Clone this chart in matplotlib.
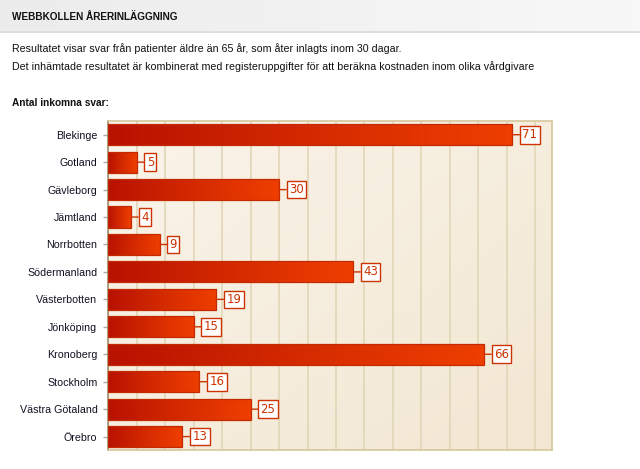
import numpy as np
import matplotlib
matplotlib.use("Agg")
import matplotlib.pyplot as plt
from matplotlib.colors import LinearSegmentedColormap

categories = ["Blekinge", "Gotland", "Gävleborg", "Jämtland", "Norrbotten",
              "Södermanland", "Västerbotten", "Jönköping", "Kronoberg",
              "Stockholm", "Västra Götaland", "Örebro"]
values = [71, 5, 30, 4, 9, 43, 19, 15, 66, 16, 25, 13]

title = "WEBBKOLLEN ÅRERINLÄGGNING"
line1 = "Resultatet visar svar från patienter äldre än 65 år, som åter inlagts inom 30 dagar."
line2 = "Det inhämtade resultatet är kombinerat med registeruppgifter för att beräkna kostnaden inom olika vårdgivare"
subtitle = "Antal inkomna svar:"

W, H = 640, 469
fig = plt.figure(figsize=(W / 100, H / 100), dpi=100)
fig.patch.set_facecolor("white")

# header band
hdr = fig.add_axes([0, 1 - 31 / H, 1, 31 / H])
grad = np.linspace(0, 1, 100).reshape(1, -1)
hcm = LinearSegmentedColormap.from_list("h", ["#ececec", "#f8f8f8"])
hdr.imshow(grad, aspect="auto", cmap=hcm, extent=(0, 1, 0, 1))
hdr.set_axis_off()
fig.add_artist(plt.Line2D([0, 1], [1 - 32 / H, 1 - 32 / H], color="#d8d8d8", lw=1.2))

fontfam = ["Liberation Sans", "DejaVu Sans"]
fig.text(12 / W, 1 - 17 / H, title, fontsize=7.2, fontweight="bold", va="center",
         ha="left", color="#111111", family=fontfam)
fig.text(12 / W, 1 - 49 / H, line1, fontsize=7.7, va="center", ha="left",
         color="#111111", family=fontfam)
fig.text(12 / W, 1 - 67 / H, line2, fontsize=7.65, va="center", ha="left",
         color="#111111", family=fontfam)
fig.text(12 / W, 1 - 103 / H, subtitle, fontsize=7.3, fontweight="bold",
         va="center", ha="left", color="#111111", family=fontfam)

left, right, top, bottom = 108.3, 552.3, 121, 450.3
ax = fig.add_axes([left / W, 1 - bottom / H, (right - left) / W, (bottom - top) / H])
xmax = 78
n = len(categories)
ax.set_xlim(0, xmax)
ax.set_ylim(n - 0.5, -0.5)

# plot-area background gradient
bg = np.add.outer(np.linspace(0, 1, 50), np.linspace(0, 1, 50)) / 2
bcm = LinearSegmentedColormap.from_list("b", ["#faf4ea", "#f2e7d2"])
ax.imshow(bg, aspect="auto", cmap=bcm, extent=(0, xmax, n - 0.5, -0.5), zorder=0)

for gx in range(5, xmax, 5):
    ax.axvline(gx, color="#e2d6b8", lw=1.2, zorder=1)

barcm = LinearSegmentedColormap.from_list("bar", ["#b81200", "#d42a00", "#ee3e00"])
bh = 0.77
ypos = np.arange(n)
bars = ax.barh(ypos, values, height=bh, color="none", edgecolor="#c42a00", lw=0.9, zorder=3)
for rect, v, y in zip(bars, values, ypos):
    im = ax.imshow(grad, aspect="auto", cmap=barcm,
                   extent=(0, v, y + bh / 2, y - bh / 2), zorder=2)
    im.set_clip_path(rect)

for v, y in zip(values, ypos):
    ax.annotate(str(v), xy=(v, y), xytext=(10, 0), textcoords="offset pixels",
                ha="left", va="center", fontsize=8.5, color="#cc3300",
                family=["DejaVu Sans"], zorder=5,
                bbox=dict(boxstyle="square,pad=0.2", fc="white", ec="#cc3300", lw=1),
                arrowprops=dict(arrowstyle="-", color="#cc3300", lw=1,
                                shrinkA=0, shrinkB=0))

ax.set_xticks([])
ax.set_yticks(ypos)
ax.set_yticklabels(categories, fontsize=7.7, color="#111122", family=fontfam)
ax.tick_params(axis="y", length=3.8, color="#aaaaaa", pad=4, width=1)
for s in ["top", "right", "bottom"]:
    ax.spines[s].set_color("#d6c69c")
    ax.spines[s].set_linewidth(1.2)
ax.spines["left"].set_color("#9c8c6c")
ax.spines["left"].set_linewidth(1.2)

fig.savefig("out.png", dpi=100)
